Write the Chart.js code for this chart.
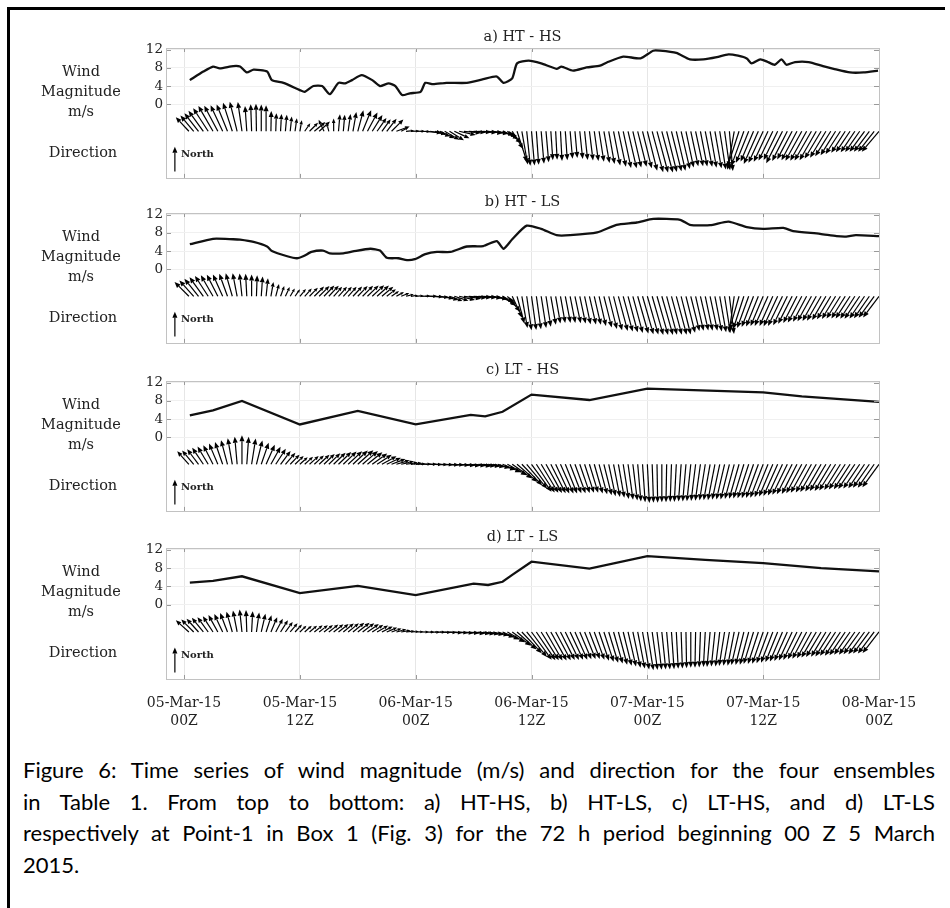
<!DOCTYPE html>
<html>
<head>
<meta charset="utf-8">
<title>Figure 6 - wind magnitude and direction</title>
<script src="https://cdn.jsdelivr.net/npm/chart.js@4.4.1/dist/chart.umd.min.js"></script>
<style>
    html, body { margin: 0; padding: 0; background: #fff; }
    #page { position: relative; width: 950px; height: 908px; overflow: hidden; background: #fff; }
    #page canvas { position: absolute; }
    .frame { position: absolute; background: #000; }
    .lbl { position: absolute; font-family: 'DejaVu Serif', serif; font-size: 14.5px; color: #222; text-align: center; line-height: 18px; white-space: nowrap; }
    .cap { position: absolute; left: 23px; width: 912px; font-family: Lato, 'Open Sans', sans-serif; font-size: 22px; line-height: 26px; color: #000; text-align: justify; text-align-last: justify; }
    .cap.last { text-align-last: left; }
</style>
</head>
<body>
<div id="page">
    <div class="frame" style="left:7px; top:7px; width:938px; height:2.5px;"></div>
    <div class="frame" style="left:7px; top:7px; width:2.5px; height:901px;"></div>
</div>

<script>
// Time axis: hours after 05-Mar-15 00Z
const X_TICK_HOURS = [0, 12, 24, 36, 48, 60, 72];
const X_TICK_LABELS = [
    ['05-Mar-15', '00Z'], ['05-Mar-15', '12Z'], ['06-Mar-15', '00Z'], ['06-Mar-15', '12Z'],
    ['07-Mar-15', '00Z'], ['07-Mar-15', '12Z'], ['08-Mar-15', '00Z']
];
const Y_TICKS = [0, 4, 8, 12];

// Wind magnitude (m/s)
const HOURS_A = [0.6, 2, 3, 3.7, 5.1, 5.8, 6.5, 7.2, 8.6, 9.1, 10.3, 12, 12.5, 13.4, 14.3, 15.1, 16, 16.7, 17.4, 18.4,
    19.5, 20.3, 21.2, 21.9, 22.6, 23.4, 24.5, 25, 25.8, 27.2, 29.3, 31, 32.4, 33.1, 34, 34.5, 35.7, 37, 38.6, 39.1,
    40.3, 41.7, 43.1, 43.8, 45.5, 47.3, 48.6, 49.3, 51, 52.4, 53.8, 55.2, 56.4, 57.4, 58.3, 58.8, 59.7, 60.4, 61.2, 61.9,
    62.4, 63.3, 64.7, 66.2, 67.3, 69, 70.4, 71.9];
const MAG_A = [5.3, 7.2, 8.3, 7.9, 8.4, 8.3, 7.0, 7.6, 7.2, 5.3, 4.7, 3.1, 2.7, 4.0, 4.0, 2.2, 4.7, 4.6, 5.3, 6.4,
    5.3, 4.0, 4.6, 4.0, 2.0, 2.4, 2.7, 4.7, 4.4, 4.7, 4.7, 5.5, 6.1, 4.7, 5.7, 9.0, 9.6, 9.0, 7.8, 8.3,
    7.4, 8.1, 8.5, 9.2, 10.5, 10.1, 11.8, 11.8, 11.3, 9.9, 9.9, 10.4, 11.0, 10.7, 10.1, 9.0, 9.9, 9.4, 8.7, 9.9,
    8.7, 9.3, 9.3, 8.4, 7.8, 7.0, 7.0, 7.4];

const HOURS_B = [0.6, 3, 5.1, 5.8, 7.2, 8.6, 9.1, 10.6, 11.7, 12.4, 13.2, 14.4, 15.1, 16.5, 17.5, 19.3, 20.3, 21, 22.2, 23.1,
    23.9, 25, 26.2, 27.6, 29.3, 31, 32.4, 33.1, 34, 35.5, 37, 38.6, 40, 42.8, 44.8, 46.9, 48.6, 51.4, 52.4, 54.5,
    56.4, 58.3, 60, 62.1, 63.1, 65.9, 67.6, 68.6, 69.6, 72];
const MAG_B = [5.5, 6.7, 6.6, 6.5, 6.0, 5.0, 4.0, 2.9, 2.4, 2.9, 3.8, 4.1, 3.5, 3.5, 3.9, 4.5, 4.1, 2.5, 2.4, 2.0,
    2.2, 3.3, 3.8, 3.8, 5.0, 5.1, 6.2, 4.5, 6.6, 9.6, 8.9, 7.5, 7.5, 8.1, 9.8, 10.3, 11.1, 10.9, 9.8, 9.7,
    10.5, 9.3, 8.9, 9.1, 8.4, 7.8, 7.3, 7.2, 7.5, 7.3];

const HOURS_C = [0.6, 3, 6, 12, 18, 24, 29.7, 31.2, 33, 36, 42, 48, 60, 64, 72];
const MAG_C = [4.8, 5.9, 8.0, 2.8, 5.8, 2.8, 4.9, 4.6, 5.6, 9.4, 8.2, 10.7, 9.9, 9.0, 7.8];

const HOURS_D = [0.6, 3, 6, 12, 18, 24, 30, 31.5, 33, 34, 36, 42, 48, 54, 60, 66, 72];
const MAG_D = [4.8, 5.2, 6.2, 2.5, 4.1, 2.1, 4.6, 4.3, 5.0, 6.5, 9.4, 7.9, 10.6, 9.8, 9.1, 8.0, 7.3];

// Direction arrows every half hour: heading (deg clockwise from north) and speed (m/s)
const ARROW_HOURS = [
    0.5, 1, 1.5, 2, 2.5, 3, 3.5, 4, 4.5, 5, 5.5, 6,
    6.5, 7, 7.5, 8, 8.5, 9, 9.5, 10, 10.5, 11, 11.5, 12,
    12.5, 13, 13.5, 14, 14.5, 15, 15.5, 16, 16.5, 17, 17.5, 18,
    18.5, 19, 19.5, 20, 20.5, 21, 21.5, 22, 22.5, 23, 23.5, 24,
    24.5, 25, 25.5, 26, 26.5, 27, 27.5, 28, 28.5, 29, 29.5, 30,
    30.5, 31, 31.5, 32, 32.5, 33, 33.5, 34, 34.5, 35, 35.5, 36,
    36.5, 37, 37.5, 38, 38.5, 39, 39.5, 40, 40.5, 41, 41.5, 42,
    42.5, 43, 43.5, 44, 44.5, 45, 45.5, 46, 46.5, 47, 47.5, 48,
    48.5, 49, 49.5, 50, 50.5, 51, 51.5, 52, 52.5, 53, 53.5, 54,
    54.5, 55, 55.5, 56, 56.5, 57, 57.5, 58, 58.5, 59, 59.5, 60,
    60.5, 61, 61.5, 62, 62.5, 63, 63.5, 64, 64.5, 65, 65.5, 66,
    66.5, 67, 67.5, 68, 68.5, 69, 69.5, 70, 70.5, 71, 71.5, 72];

const DIR_A = [
    -43, -40, -38, -36, -33, -30, -28, -25, -22, -18, -14, -8,
    -4, -2, -1, 0, 0, 1, 2, 3, 5, 6, 8, 10,
    35, 45, 50, 48, -25, -15, 0, 5, 5, 8, 10, 15,
    22, 28, 32, 35, 36, 38, 45, 70, 62, 85, 88, 90,
    92, 95, 100, 108, 115, 120, 122, 115, 103, 96, 94, 93,
    94, 95, 96, 98, 104, 115, 130, 148, 162, 170, 174, 175,
    176, 175, 175, 176, 177, 177, 176, 175, 175, 174, 174, 173,
    172, 171, 170, 170, 169, 168, 168, 167, 167, 166, 166, 166,
    165, 165, 165, 166, 166, 167, 167, 168, 168, 168, 169, 169,
    170, 170, 171, 172, 175, 190, 198, 200, 202, 203, 204, 205,
    205, 206, 206, 207, 207, 208, 208, 209, 209, 210, 210, 211,
    211, 212, 212, 213, 213, 214, 214, 215, 216, 217, 218, 220];
const SPD_A = [
    5.3, 5.7, 6.3, 7.0, 7.6, 8.1, 8.0, 7.9, 8.0, 8.3, 8.4, 8.2,
    7.0, 7.5, 7.6, 7.4, 7.2, 5.6, 5.0, 4.8, 4.6, 4.1, 3.6, 3.1,
    2.7, 3.3, 4.0, 4.0, 3.5, 2.3, 3.5, 4.7, 4.6, 4.8, 5.4, 6.0,
    6.3, 5.9, 5.3, 4.5, 4.1, 4.4, 4.6, 3.9, 2.2, 2.2, 2.4, 2.6,
    2.7, 4.6, 4.5, 4.4, 4.5, 4.7, 4.7, 4.6, 4.7, 4.7, 4.7, 4.9,
    5.2, 5.5, 5.8, 6.0, 5.5, 4.8, 5.0, 5.8, 8.9, 9.3, 9.6, 9.5,
    9.3, 9.0, 8.6, 8.0, 7.9, 8.2, 8.0, 7.6, 7.4, 7.7, 8.0, 8.1,
    8.3, 8.5, 8.9, 9.2, 9.6, 10.0, 10.4, 10.5, 10.3, 10.1, 10.5, 11.2,
    11.7, 11.8, 11.8, 11.6, 11.4, 11.2, 10.7, 10.2, 9.9, 9.9, 9.9, 10.0,
    10.2, 10.4, 10.7, 10.9, 11.0, 10.8, 10.5, 10.2, 9.4, 9.1, 9.9, 9.6,
    9.3, 9.0, 8.8, 9.9, 9.2, 8.8, 9.1, 9.3, 9.3, 9.3, 9.2, 8.8,
    8.5, 8.1, 7.8, 7.5, 7.1, 7.0, 7.0, 7.0, 7.0, 7.1, 7.2, 7.4];

const DIR_B = [
    -45, -42, -39, -36, -33, -30, -27, -24, -20, -16, -11, -6,
    -3, 0, 2, 4, 6, 10, 15, 20, 25, 30, 35, 40,
    42, 44, 45, 45, 44, 43, 42, 42, 42, 42, 43, 44,
    45, 46, 47, 48, 50, 52, 55, 60, 68, 76, 82, 86,
    88, 90, 92, 95, 100, 106, 110, 108, 103, 98, 95, 94,
    94, 95, 97, 102, 112, 125, 140, 155, 165, 170, 172, 172,
    172, 171, 171, 170, 170, 170, 169, 169, 168, 168, 168, 167,
    167, 167, 166, 166, 166, 165, 165, 165, 165, 164, 164, 164,
    164, 164, 164, 165, 165, 165, 166, 166, 166, 167, 167, 168,
    168, 169, 170, 171, 173, 188, 196, 198, 200, 201, 202, 203,
    204, 204, 205, 206, 206, 207, 207, 208, 208, 209, 209, 210,
    210, 211, 211, 212, 212, 213, 213, 214, 214, 215, 216, 217];
const SPD_B = [
    5.6, 5.9, 6.2, 6.5, 6.7, 6.7, 6.7, 6.6, 6.6, 6.6, 6.5, 6.3,
    6.2, 6.0, 5.8, 5.5, 5.0, 4.0, 3.5, 3.0, 2.8, 2.5, 2.4, 2.6,
    2.9, 3.3, 3.8, 4.0, 4.1, 4.0, 3.5, 3.5, 3.5, 3.5, 3.7, 3.9,
    4.1, 4.3, 4.5, 4.4, 4.1, 3.2, 2.5, 2.4, 2.4, 2.2, 2.0, 2.2,
    2.8, 3.3, 3.6, 3.8, 3.8, 3.8, 3.8, 4.1, 4.5, 4.8, 5.0, 5.0,
    5.1, 5.2, 5.6, 6.1, 5.5, 4.5, 5.6, 6.6, 7.8, 8.9, 9.5, 9.4,
    9.2, 8.9, 8.5, 8.0, 7.6, 7.5, 7.5, 7.5, 7.6, 7.7, 7.9, 8.0,
    8.1, 8.4, 8.9, 9.3, 9.7, 9.9, 10.1, 10.3, 10.5, 10.7, 10.9, 11.0,
    11.1, 11.1, 11.1, 11.0, 11.0, 11.0, 10.9, 10.4, 9.9, 9.8, 9.7, 9.7,
    9.7, 9.9, 10.1, 10.3, 10.5, 10.2, 9.8, 9.5, 9.3, 9.1, 9.0, 8.9,
    9.0, 9.0, 9.1, 9.1, 8.9, 8.5, 8.3, 8.2, 8.0, 7.9, 7.8, 7.8,
    7.6, 7.4, 7.3, 7.2, 7.2, 7.3, 7.4, 7.5, 7.4, 7.4, 7.3, 7.3];

const DIR_C = [
    -42, -40, -37, -34, -31, -27, -23, -19, -15, -10, -5, 0,
    4, 9, 14, 19, 24, 29, 33, 37, 41, 44, 46, 48,
    48, 48, 47, 47, 46, 46, 46, 46, 46, 47, 47, 48,
    49, 51, 54, 57, 61, 65, 69, 73, 77, 81, 84, 87,
    89, 90, 91, 92, 92, 93, 93, 94, 94, 95, 95, 96,
    96, 97, 99, 102, 107, 113, 119, 125, 131, 136, 140, 144,
    147, 149, 151, 153, 155, 156, 158, 159, 160, 161, 162, 163,
    164, 165, 166, 168, 169, 170, 171, 172, 173, 175, 176, 177,
    178, 179, 180, 181, 182, 183, 184, 185, 186, 187, 188, 189,
    190, 191, 192, 193, 194, 195, 196, 197, 198, 199, 200, 201,
    202, 203, 204, 205, 206, 207, 207, 208, 209, 209, 210, 210,
    211, 211, 212, 212, 213, 213, 214, 214, 214, 215, 215, 216];
const SPD_C = [
    4.8, 5.0, 5.2, 5.5, 5.7, 5.9, 6.2, 6.5, 6.9, 7.3, 7.6, 8.0,
    7.6, 7.2, 6.8, 6.3, 5.9, 5.5, 5.1, 4.6, 4.2, 3.7, 3.3, 2.9,
    3.1, 3.4, 3.6, 3.9, 4.1, 4.4, 4.6, 4.9, 5.1, 5.3, 5.6, 5.8,
    5.6, 5.3, 5.1, 4.8, 4.6, 4.3, 4.1, 3.8, 3.6, 3.3, 3.1, 2.8,
    3.0, 3.2, 3.3, 3.5, 3.7, 3.9, 4.0, 4.2, 4.4, 4.5, 4.7, 4.9,
    4.8, 4.7, 4.6, 4.8, 5.2, 5.6, 6.2, 6.8, 7.5, 8.1, 8.8, 9.4,
    9.3, 9.2, 9.1, 9.0, 8.9, 8.8, 8.7, 8.6, 8.5, 8.4, 8.3, 8.2,
    8.4, 8.6, 8.8, 9.0, 9.2, 9.4, 9.7, 9.9, 10.1, 10.3, 10.5, 10.7,
    10.6, 10.6, 10.5, 10.5, 10.4, 10.4, 10.3, 10.3, 10.3, 10.2, 10.2, 10.1,
    10.1, 10.1, 10.0, 10.0, 10.0, 9.9, 9.9, 9.9, 9.9, 9.9, 9.9, 9.9,
    9.8, 9.7, 9.6, 9.5, 9.4, 9.3, 9.2, 9.1, 9.0, 8.9, 8.8, 8.7,
    8.6, 8.6, 8.5, 8.4, 8.3, 8.2, 8.2, 8.1, 8.0, 7.9, 7.9, 7.8];

const DIR_D = [
    -48, -45, -42, -39, -36, -33, -29, -25, -21, -16, -11, -6,
    -2, 3, 8, 13, 18, 23, 28, 32, 36, 40, 43, 46,
    48, 50, 51, 52, 52, 52, 52, 52, 51, 51, 51, 52,
    53, 55, 57, 60, 63, 67, 71, 75, 79, 83, 86, 88,
    90, 91, 92, 92, 93, 93, 94, 94, 95, 95, 96, 96,
    97, 98, 100, 103, 108, 114, 120, 126, 132, 137, 141, 144,
    146, 148, 150, 151, 152, 153, 154, 155, 156, 157, 158, 159,
    160, 161, 162, 163, 164, 165, 166, 167, 168, 169, 170, 171,
    172, 173, 174, 175, 176, 177, 178, 179, 180, 181, 182, 183,
    185, 186, 187, 189, 190, 191, 193, 194, 195, 197, 198, 199,
    200, 201, 202, 203, 204, 205, 206, 207, 208, 209, 210, 211,
    211, 212, 213, 213, 214, 215, 215, 216, 216, 217, 217, 218];
const SPD_D = [
    4.8, 4.8, 4.9, 5.0, 5.0, 5.1, 5.3, 5.4, 5.6, 5.8, 6.0, 6.2,
    6.0, 5.7, 5.4, 5.1, 4.8, 4.4, 4.1, 3.8, 3.4, 3.1, 2.8, 2.5,
    2.6, 2.7, 2.9, 3.0, 3.1, 3.3, 3.4, 3.5, 3.7, 3.8, 4.0, 4.1,
    4.0, 3.8, 3.6, 3.5, 3.3, 3.1, 2.9, 2.8, 2.6, 2.4, 2.2, 2.1,
    2.3, 2.5, 2.7, 2.9, 3.1, 3.3, 3.5, 3.7, 3.9, 4.1, 4.4, 4.6,
    4.5, 4.4, 4.3, 4.4, 4.7, 5.0, 5.6, 6.4, 7.2, 8.0, 8.8, 9.4,
    9.3, 9.1, 9.0, 8.9, 8.8, 8.6, 8.5, 8.4, 8.3, 8.1, 8.0, 7.9,
    8.1, 8.3, 8.6, 8.8, 9.0, 9.3, 9.5, 9.7, 10.0, 10.2, 10.4, 10.6,
    10.5, 10.4, 10.3, 10.3, 10.2, 10.1, 10.0, 9.9, 9.8, 9.8, 9.7, 9.6,
    9.6, 9.5, 9.5, 9.4, 9.4, 9.4, 9.3, 9.3, 9.3, 9.2, 9.2, 9.2,
    9.1, 9.0, 8.9, 8.8, 8.7, 8.6, 8.5, 8.4, 8.3, 8.2, 8.1, 8.0,
    7.9, 7.9, 7.8, 7.8, 7.7, 7.6, 7.6, 7.5, 7.5, 7.4, 7.4, 7.3];

// Plot geometry / drawing settings
const X_MIN = -1.87, X_MAX = 72;
const Y_MIN = -16.3, Y_MAX = 12.4;
const ARROW_BASE = -6;      // arrows start on this level
const ARROW_SCALE = 0.8;    // y-units per m/s
const NORTH_HOUR = -0.95, NORTH_BASE = -14.9, NORTH_LEN = 5.5;
const PLOT_LEFT = 166, PLOT_RIGHT = 879, PLOT_H = 131;
const CANVAS_LEFT = 110, CANVAS_RIGHT = 940, PAD_TOP = 12, Y_AXIS_W = 56;
const SERIF = "'DejaVu Serif', 'Liberation Serif', serif";

const PANELS = [
    { title: 'a) HT - HS', top: 48, hours: HOURS_A, mag: MAG_A, dir: DIR_A, spd: SPD_A, tension: 0.2 },
    { title: 'b) HT - LS', top: 213, hours: HOURS_B, mag: MAG_B, dir: DIR_B, spd: SPD_B, tension: 0.2 },
    { title: 'c) LT - HS', top: 381, hours: HOURS_C, mag: MAG_C, dir: DIR_C, spd: SPD_C, tension: 0 },
    { title: 'd) LT - LS', top: 548, hours: HOURS_D, mag: MAG_D, dir: DIR_D, spd: SPD_D, tension: 0, xLabels: true }
];

const CAPTION = [
    'Figure 6: Time series of wind magnitude (m/s) and direction for the four ensembles',
    'in Table 1. From top to bottom: a) HT-HS, b) HT-LS, c) LT-HS, and d) LT-LS',
    'respectively at Point-1 in Box 1 (Fig. 3) for the 72 h period beginning 00 Z 5 March',
    '2015.'
];
const CAPTION_TOP = 757, CAPTION_STEP = 31.5;

function drawArrow(ctx, x0, y0, deg, len) {
    const a = deg * Math.PI / 180;
    const ux = Math.sin(a), uy = -Math.cos(a);
    const x1 = x0 + ux * len, y1 = y0 + uy * len;
    const hl = Math.min(6, 1.5 + len * 0.22), hw = hl * 0.42;
    const bx = x1 - ux * hl, by = y1 - uy * hl;
    ctx.beginPath();
    ctx.moveTo(x0, y0);
    ctx.lineTo(bx, by);
    ctx.stroke();
    ctx.beginPath();
    ctx.moveTo(x1, y1);
    ctx.lineTo(bx - uy * hw, by + ux * hw);
    ctx.lineTo(bx + uy * hw, by - ux * hw);
    ctx.closePath();
    ctx.fill();
}

// quiver arrows, north key and MATLAB-style box
function makeQuiver(panel) {
    return {
        id: 'quiver',
        afterDatasetsDraw(chart) {
            const { ctx, chartArea: area, scales: { x, y } } = chart;
            const unit = Math.abs(y.getPixelForValue(0) - y.getPixelForValue(1));
            const y0 = y.getPixelForValue(ARROW_BASE);
            ctx.save();
            ctx.strokeStyle = '#000';
            ctx.fillStyle = '#000';
            ctx.lineWidth = 1.2;
            panel.dir.forEach((d, i) => {
                drawArrow(ctx, x.getPixelForValue(ARROW_HOURS[i]), y0, d, panel.spd[i] * ARROW_SCALE * unit);
            });
            // north reference arrow
            const nx = x.getPixelForValue(NORTH_HOUR);
            const ny = y.getPixelForValue(NORTH_BASE);
            drawArrow(ctx, nx, ny, 0, NORTH_LEN * unit);
            ctx.font = 'bold 10px ' + SERIF;
            ctx.fillStyle = '#222';
            ctx.textBaseline = 'middle';
            ctx.textAlign = 'left';
            ctx.fillText('North', nx + 6, ny - 17);

            // inner tick marks
            ctx.strokeStyle = '#9a9a9a';
            ctx.lineWidth = 1;
            ctx.beginPath();
            Y_TICKS.forEach(v => {
                const py = Math.round(y.getPixelForValue(v)) + 0.5;
                ctx.moveTo(area.left, py); ctx.lineTo(area.left + 5, py);
                ctx.moveTo(area.right, py); ctx.lineTo(area.right - 5, py);
            });
            X_TICK_HOURS.forEach(h => {
                const px = Math.round(x.getPixelForValue(h)) + 0.5;
                ctx.moveTo(px, area.top); ctx.lineTo(px, area.top + 4);
                ctx.moveTo(px, area.bottom); ctx.lineTo(px, area.bottom - 4);
            });
            ctx.stroke();
            // box
            ctx.strokeStyle = '#c2c2c2';
            ctx.strokeRect(Math.round(area.left) + 0.5, Math.round(area.top) + 0.5,
                Math.round(area.right - area.left), Math.round(area.bottom - area.top));
            ctx.restore();
        }
    };
}

function addLabel(page, text, cx, cy, extra) {
    const div = document.createElement('div');
    div.className = 'lbl';
    div.textContent = text;
    div.style.left = (cx - 100) + 'px';
    div.style.width = '200px';
    div.style.top = (cy - 9) + 'px';
    if (extra) Object.assign(div.style, extra);
    page.appendChild(div);
}

function buildPanel(page, panel) {
    const bottomSpace = panel.xLabels ? 55 : 10;
    const canvas = document.createElement('canvas');
    const w = CANVAS_RIGHT - CANVAS_LEFT;
    const h = PAD_TOP + PLOT_H + bottomSpace;
    canvas.width = w;
    canvas.height = h;
    canvas.style.left = CANVAS_LEFT + 'px';
    canvas.style.top = (panel.top - PAD_TOP) + 'px';
    canvas.style.width = w + 'px';
    canvas.style.height = h + 'px';
    page.appendChild(canvas);

    const points = panel.hours.map((hr, i) => ({ x: hr, y: panel.mag[i] }));

    new Chart(canvas.getContext('2d'), {
        type: 'line',
        data: {
            datasets: [{
                data: points,
                borderColor: '#111',
                borderWidth: 2.3,
                pointRadius: 0,
                tension: panel.tension,
                fill: false
            }]
        },
        options: {
            responsive: false,
            animation: false,
            devicePixelRatio: 1,
            events: [],
            layout: {
                padding: { left: 0, top: PAD_TOP, right: CANVAS_RIGHT - PLOT_RIGHT, bottom: panel.xLabels ? 5 : 10 }
            },
            plugins: { legend: { display: false }, tooltip: { enabled: false }, title: { display: false } },
            scales: {
                x: {
                    type: 'linear',
                    min: X_MIN,
                    max: X_MAX,
                    afterBuildTicks: s => { s.ticks = X_TICK_HOURS.map(v => ({ value: v })); },
                    afterFit: s => { s.height = panel.xLabels ? 50 : 0; },
                    border: { display: false },
                    grid: { color: '#e6e6e6', lineWidth: 1, drawTicks: false },
                    ticks: {
                        display: !!panel.xLabels,
                        maxRotation: 0,
                        autoSkip: false,
                        padding: 15,
                        color: '#222',
                        font: { family: SERIF, size: 14, lineHeight: 1.3 },
                        callback: (v, i) => X_TICK_LABELS[i]
                    }
                },
                y: {
                    min: Y_MIN,
                    max: Y_MAX,
                    afterBuildTicks: s => { s.ticks = Y_TICKS.map(v => ({ value: v })); },
                    afterFit: s => { s.width = Y_AXIS_W; },
                    border: { display: false },
                    grid: { color: '#f0f0f0', lineWidth: 1, drawTicks: false },
                    ticks: {
                        padding: 3,
                        color: '#222',
                        font: { family: SERIF, size: 13.5 },
                        callback: v => String(v)
                    }
                }
            }
        },
        plugins: [makeQuiver(panel)]
    });

    // panel title and the left-hand labels
    addLabel(page, panel.title, (PLOT_LEFT + PLOT_RIGHT) / 2, panel.top - 12.5);
    addLabel(page, 'Wind', 81, panel.top + 23);
    addLabel(page, 'Magnitude', 81, panel.top + 43);
    addLabel(page, 'm/s', 81, panel.top + 63);
    addLabel(page, 'Direction', 83, panel.top + 104);
}

function buildCaption(page) {
    CAPTION.forEach((line, i) => {
        const div = document.createElement('div');
        div.className = 'cap' + (i === CAPTION.length - 1 ? ' last' : '');
        div.textContent = line;
        div.style.top = (CAPTION_TOP + i * CAPTION_STEP) + 'px';
        page.appendChild(div);
    });
}

const page = document.getElementById('page');
PANELS.forEach(p => buildPanel(page, p));
buildCaption(page);
</script>
</body>
</html>
